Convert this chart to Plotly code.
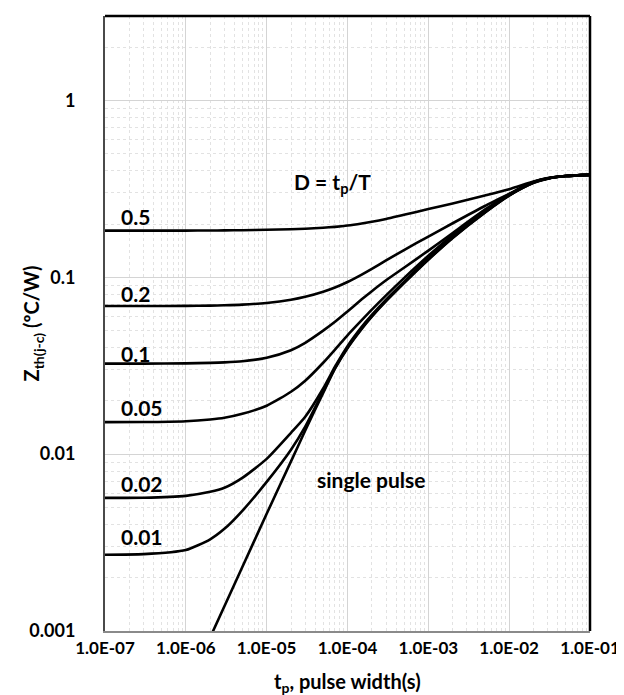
import math
import plotly.graph_objects as go

# ---------------- data ----------------
tp = [1e-7, 3e-7, 1e-6, 2e-6, 3e-6, 5e-6, 1e-5, 2e-5, 3e-5, 5e-5, 7e-5, 1e-4,
      1.5e-4, 2e-4, 3e-4, 5e-4, 1e-3, 2e-3, 5e-3, 1e-2, 2e-2, 3e-2, 5e-2, 1e-1]

z_d05 = [0.1835, 0.1835, 0.1836, 0.1838, 0.1840, 0.1845, 0.1855, 0.1870, 0.1882, 0.1905, 0.1928, 0.1962,
         0.2015, 0.2058, 0.2135, 0.2255, 0.2429, 0.2610, 0.2896, 0.3145, 0.3475, 0.3638, 0.3734, 0.3790]
z_d02 = [0.0688, 0.0688, 0.0689, 0.0691, 0.0694, 0.0700, 0.0716, 0.0746, 0.0775, 0.0828, 0.0875, 0.0940,
         0.1035, 0.1115, 0.1245, 0.1425, 0.1699, 0.2020, 0.2529, 0.2960, 0.3455, 0.3628, 0.3734, 0.3790]
z_d01 = [0.0325, 0.0325, 0.0326, 0.0328, 0.0330, 0.0335, 0.0351, 0.0387, 0.0426, 0.0499, 0.0560, 0.0641,
         0.0750, 0.0834, 0.0961, 0.1132, 0.1415, 0.1780, 0.2410, 0.2955, 0.3450, 0.3624, 0.3734, 0.3790]
z_d005 = [0.01517, 0.01518, 0.01535, 0.0157, 0.01605, 0.0169, 0.01877, 0.02253, 0.0260, 0.03286, 0.0390, 0.0470,
          0.0572, 0.0656, 0.0790, 0.0989, 0.1323, 0.1734, 0.2367, 0.2935, 0.3445, 0.3620, 0.3734, 0.3790]
z_d002 = [0.00566, 0.00567, 0.00581, 0.00612, 0.00645, 0.00734, 0.0094, 0.0132, 0.01626, 0.0235, 0.0312, 0.0408,
          0.0524, 0.0612, 0.0747, 0.0942, 0.1290, 0.1700, 0.2340, 0.2915, 0.3435, 0.3615, 0.3734, 0.3790]
z_d001 = [0.0027, 0.00272, 0.00287, 0.00330, 0.00378, 0.00478, 0.00697, 0.0106, 0.0143, 0.0226, 0.0306, 0.0400,
          0.0515, 0.0603, 0.0737, 0.0931, 0.1262, 0.1675, 0.2328, 0.2903, 0.3425, 0.3613, 0.3734, 0.3790]

tp_single = [2e-6, 3e-6, 5e-6, 1e-5, 2e-5, 3e-5, 5e-5, 7e-5, 1e-4, 1.5e-4, 2e-4, 3e-4, 5e-4,
             1e-3, 2e-3, 5e-3, 1e-2, 2e-2, 3e-2, 5e-2, 1e-1]
z_single = [0.00092, 0.00138, 0.0023, 0.0046, 0.0091, 0.0136, 0.0222, 0.0304, 0.0397, 0.0510, 0.0598, 0.0732,
            0.0926, 0.1256, 0.1668, 0.2320, 0.2897, 0.3420, 0.3612, 0.3734, 0.3790]

duty_labels = ["0.5", "0.2", "0.1", "0.05", "0.02", "0.01"]
duty_series = [z_d05, z_d02, z_d01, z_d005, z_d002, z_d001]
label_y = [0.220, 0.0813, 0.0372, 0.01828, 0.00683, 0.003426]

x_tick_vals = [1e-7, 1e-6, 1e-5, 1e-4, 1e-3, 1e-2, 1e-1]
x_tick_text = ["1.0E-07", "1.0E-06", "1.0E-05", "1.0E-04", "1.0E-03", "1.0E-02", "1.0E-01"]
y_tick_vals = [0.001, 0.01, 0.1, 1]
y_tick_text = ["0.001", "0.01", "0.1", "1"]

# ---------------- figure ----------------
FONT = "Lato"
fig = go.Figure()
line_style = dict(color="black", width=2.6, shape="spline", smoothing=0.6)
for z in duty_series:
    fig.add_trace(go.Scatter(x=tp, y=z, mode="lines", line=line_style, hoverinfo="skip"))
fig.add_trace(go.Scatter(x=tp_single, y=z_single, mode="lines", line=line_style, hoverinfo="skip"))

ann_font = dict(family=FONT, size=21, color="black", weight="bold")
for lab, yy in zip(duty_labels, label_y):
    fig.add_annotation(x=math.log10(1.5e-7), y=math.log10(yy), text=lab, showarrow=False,
                       xanchor="left", yanchor="middle", font=ann_font)

fig.add_annotation(x=math.log10(6.46e-5), y=math.log10(0.343), text="D = t<sub>p</sub>/T", showarrow=False,
                   xanchor="center", yanchor="middle", font=ann_font)
fig.add_annotation(x=math.log10(1.96e-4), y=math.log10(0.00715), text="single pulse", showarrow=False,
                   xanchor="center", yanchor="middle", font=ann_font)

# axis titles
title_font = dict(family=FONT, size=20, color="black", weight="bold")
fig.add_annotation(xref="paper", yref="paper", x=0.5, y=-0.083, text="t<sub>p</sub>, pulse width(s)",
                   showarrow=False, xanchor="center", yanchor="middle", font=title_font)
fig.add_annotation(xref="paper", yref="paper", x=-0.1485, y=0.5, text="Z<sub>th(j-c)</sub> (ºC/W)",
                   showarrow=False, xanchor="center", yanchor="middle", textangle=-90, font=title_font)

minor_x = [m * 10.0 ** e for e in range(-7, -1) for m in range(2, 10)]
minor_y = [m * 10.0 ** e for e in range(-3, 1) for m in range(2, 10)]

fig.update_xaxes(type="log", range=[-7, -1], tickmode="array", tickvals=x_tick_vals, ticktext=x_tick_text,
                 showgrid=True, gridcolor="#d4d4d4", gridwidth=1,
                 minor=dict(tickmode="array", tickvals=minor_x, showgrid=True, gridcolor="#e2e2e2",
                            griddash="dot", gridwidth=1, ticks=""),
                 showline=True, linecolor="#8a8a8a", linewidth=2, ticks="", zeroline=False,
                 tickfont=dict(family=FONT, size=17, color="black", weight="bold"),
                 ticklabelstandoff=1)
fig.update_yaxes(type="log", range=[-3, math.log10(3)], tickmode="array", tickvals=y_tick_vals,
                 ticktext=y_tick_text,
                 showgrid=True, gridcolor="#d4d4d4", gridwidth=1,
                 minor=dict(tickmode="array", tickvals=minor_y, showgrid=True, gridcolor="#e2e2e2",
                            griddash="dot", gridwidth=1, ticks=""),
                 showline=True, linecolor="#4a4a4a", linewidth=2, ticks="", zeroline=False,
                 tickfont=dict(family=FONT, size=18, color="black", weight="bold"),
                 ticklabelstandoff=24)

# top and right frame lines
fig.add_shape(type="line", xref="paper", yref="paper", x0=0, x1=1, y0=1, y1=1,
              line=dict(color="black", width=2.5))
fig.add_shape(type="line", xref="paper", yref="paper", x0=1, x1=1, y0=0, y1=1,
              line=dict(color="black", width=2.5))

fig.update_layout(width=624, height=695, margin=dict(l=97, r=42, t=8, b=72, autoexpand=False),
                  plot_bgcolor="white", paper_bgcolor="white", showlegend=False)

fig.write_html("out.html")
